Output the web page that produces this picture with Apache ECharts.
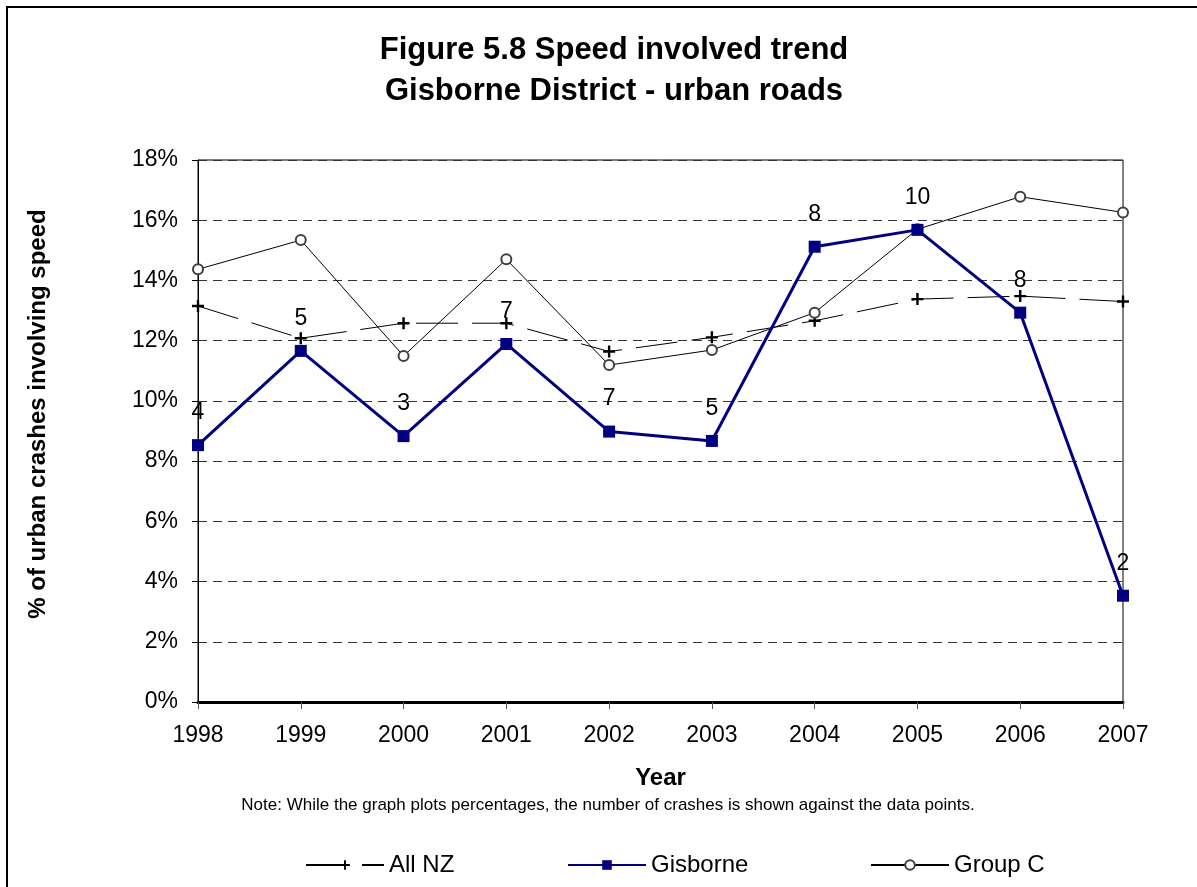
<!DOCTYPE html>
<html>
<head>
<meta charset="utf-8">
<script src="https://cdn.jsdelivr.net/npm/echarts@6/dist/echarts.min.js"></script>
<style>
  html, body { margin: 0; padding: 0; background: #fff; }
  #chart { width: 1197px; height: 887px; }
</style>
</head>
<body>
<div id="chart"></div>
<script>
// years on the x axis
var years = ['1998', '1999', '2000', '2001', '2002', '2003', '2004', '2005', '2006', '2007'];
// percentages
var allNZ    = [13.15, 12.08, 12.58, 12.58, 11.64, 12.11, 12.66, 13.38, 13.48, 13.30];
var gisborne = [8.53, 11.66, 8.83, 11.89, 8.98, 8.67, 15.12, 15.68, 12.93, 3.53];
var groupC   = [14.37, 15.34, 11.49, 14.70, 11.19, 11.69, 12.93, 15.70, 16.78, 16.26];
// crash counts shown against the Gisborne points
var gisborneCounts = [4, 5, 3, 7, 7, 5, 8, 10, 8, 2];

var FONT = 'Liberation Sans, Arial, sans-serif';
var plusPath = 'path://M4,0 H6 V4 H10 V6 H6 V10 H4 V6 H0 V4 H4 Z';

var chart = echarts.init(document.getElementById('chart'));

// one legend per item so each can sit where it does in the original
function legendAt(left, name) {
    return {
        left: left,
        bottom: 5,
        data: [name],
        itemWidth: 78,
        itemHeight: 12,
        itemGap: 5,
        textStyle: { fontFamily: FONT, fontSize: 24, color: '#000' }
    };
}

chart.setOption({
    backgroundColor: '#fff',
    animation: false,
    graphic: [{
        type: 'rect',
        shape: { x: 7, y: 7, width: 1220, height: 920 },
        style: { fill: 'none', stroke: '#000', lineWidth: 2 },
        silent: true
    }, {
        type: 'text',
        x: 608,
        y: 805,
        style: {
            text: 'Note: While the graph plots percentages, the number of crashes is shown against the data points.',
            font: '17px ' + FONT,
            fill: '#000',
            align: 'center',
            verticalAlign: 'middle'
        }
    }],
    title: {
        text: 'Figure 5.8 Speed involved trend\nGisborne District - urban roads',
        left: 609,
        textAlign: 'center',
        top: 25,
        textStyle: {
            fontFamily: FONT, fontSize: 31, fontWeight: 'bold', color: '#000', lineHeight: 41
        }
    },
    legend: [
        legendAt(300, 'All NZ'),
        legendAt(562, 'Gisborne'),
        legendAt(865, 'Group C')
    ],
    grid: {
        left: 198, right: 74, top: 160, bottom: 185,
        show: true, borderColor: '#000', borderWidth: 1, backgroundColor: 'transparent'
    },
    xAxis: {
        type: 'category',
        data: years,
        boundaryGap: false,
        name: 'Year',
        nameLocation: 'middle',
        nameGap: 64,
        nameTextStyle: { fontFamily: FONT, fontSize: 24, fontWeight: 'bold', color: '#000' },
        axisLine: { lineStyle: { color: '#000', width: 3 } },
        axisTick: { show: true, length: 7, lineStyle: { color: '#555', width: 1 } },
        axisLabel: { fontFamily: FONT, fontSize: 23, color: '#000', margin: 22 },
        splitLine: { show: false }
    },
    yAxis: {
        type: 'value',
        min: 0, max: 18, interval: 2,
        name: '% of urban crashes involving speed',
        nameLocation: 'middle',
        nameGap: 148,
        nameRotate: 90,
        nameTextStyle: {
            fontFamily: FONT, fontSize: 24, fontWeight: 'bold', color: '#000',
            padding: [0, 0, 0, 34]
        },
        axisLine: { show: true, lineStyle: { color: '#000', width: 1 } },
        axisTick: { show: true, length: 6, lineStyle: { color: '#000' } },
        axisLabel: {
            fontFamily: FONT, fontSize: 23, color: '#000', margin: 20,
            formatter: '{value}%'
        },
        splitLine: { show: true, lineStyle: { color: '#333', type: [9, 6], width: 1 } }
    },
    series: [{
        name: 'All NZ',
        type: 'line',
        data: allNZ,
        symbol: plusPath,
        symbolSize: 12,
        itemStyle: { color: '#000' },
        lineStyle: { color: '#000', width: 1, type: [42, 14] },
        z: 3
    }, {
        name: 'Group C',
        type: 'line',
        data: groupC,
        symbol: 'circle',
        symbolSize: 10,
        itemStyle: { color: '#fff', borderColor: '#404040', borderWidth: 2 },
        lineStyle: { color: '#000', width: 1 },
        z: 4
    }, {
        name: 'Gisborne',
        type: 'line',
        data: gisborne,
        symbol: 'rect',
        symbolSize: 12,
        itemStyle: { color: '#000080' },
        lineStyle: { color: '#000080', width: 3 },
        label: {
            show: true,
            position: 'top',
            distance: 15,
            fontFamily: FONT,
            fontSize: 23,
            color: '#000',
            formatter: function (p) { return gisborneCounts[p.dataIndex]; }
        },
        z: 5
    }]
});
</script>
</body>
</html>
